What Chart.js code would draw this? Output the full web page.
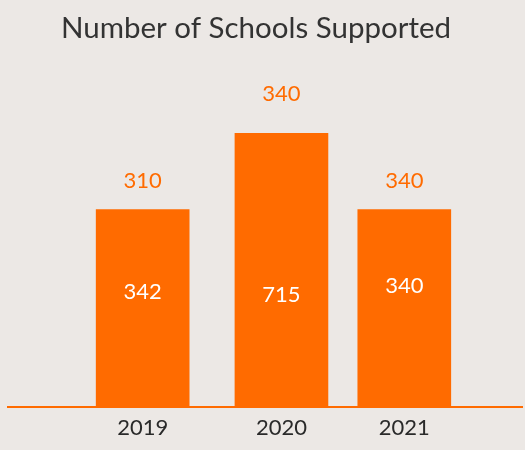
<!DOCTYPE html>
<html>
<head>
<meta charset="utf-8">
<script src="https://cdn.jsdelivr.net/npm/chart.js@4"></script>
<style>
  html, body { margin: 0; padding: 0; background: #ece8e5; }
  #wrap { width: 525px; height: 450px; }
</style>
</head>
<body>
<div id="wrap"><canvas id="myChart" width="525" height="450"></canvas></div>
<script>
// data
const years = ['2019', '2020', '2021'];
const barHeights = [72, 100, 72];          // relative bar heights (tallest = 100)
const topLabels = ['310', '340', '340'];
const innerLabels = ['342', '715', '340'];

// layout (percent of plot width, px gaps, label levels on the y scale)
const columnCenters = [26.2, 53.2, 77.1];
const topLabelGap = [29, 39, 29];
const innerLabelLevels = [42, 41, 44];

const orange = '#ff6b00';

const labelsPlugin = {
  id: 'labels',
  afterDatasetsDraw(chart) {
    const ctx = chart.ctx;
    const meta = chart.getDatasetMeta(0);
    const y = chart.scales.y;
    ctx.save();
    ctx.font = '22px Lato';
    ctx.textAlign = 'center';
    ctx.textBaseline = 'middle';
    meta.data.forEach((bar, i) => {
      ctx.fillStyle = orange;
      ctx.fillText(topLabels[i], bar.x, bar.y - topLabelGap[i]);
      ctx.fillStyle = '#ffffff';
      ctx.fillText(innerLabels[i], bar.x, y.getPixelForValue(innerLabelLevels[i]));
    });
    // title
    ctx.fillStyle = '#333333';
    ctx.font = '29.5px Lato';
    ctx.fillText('Number of Schools Supported', 256, 28);
    ctx.restore();
  }
};

document.fonts.load('22px Lato').then(() => {
  const myChartRef = document.getElementById('myChart').getContext('2d');
  new Chart(myChartRef, {
    type: 'bar',
    data: {
      datasets: [{
        data: barHeights.map((v, i) => ({ x: columnCenters[i], y: v })),
        backgroundColor: orange,
        barThickness: 93,
        borderWidth: 0
      }]
    },
    options: {
      responsive: false,
      animation: false,
      layout: { padding: { top: 133, left: 8, right: 3, bottom: 1 } },
      plugins: { legend: { display: false }, tooltip: { enabled: false } },
      scales: {
        x: {
          type: 'linear',
          min: 0,
          max: 100,
          offset: false,
          grid: { display: false, drawTicks: false },
          border: { display: true, color: orange, width: 2 },
          afterBuildTicks: axis => { axis.ticks = columnCenters.map(v => ({ value: v })); },
          ticks: {
            padding: 8,
            maxRotation: 0,
            color: '#2a2a2a',
            font: { family: 'Lato', size: 22 },
            callback: (v, i) => years[i]
          }
        },
        y: {
          display: false,
          min: 0,
          max: 100
        }
      }
    },
    plugins: [labelsPlugin]
  });
});
</script>
</body>
</html>
